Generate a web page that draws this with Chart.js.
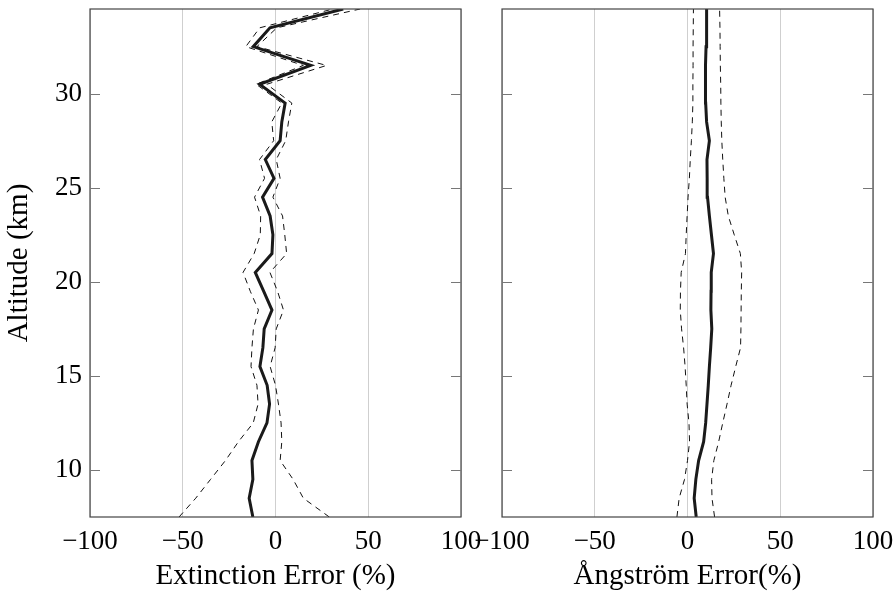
<!DOCTYPE html>
<html>
<head>
<meta charset="utf-8">
<script src="https://cdn.jsdelivr.net/npm/chart.js@4.4.1/dist/chart.umd.min.js"></script>
<style>
  body { margin: 0; background: #fff; }
  .panel { position: absolute; left: 0; top: 0; width: 896px; height: 597px; }
</style>
</head>
<body>
<div class="panel"><canvas id="extinction_chart"></canvas></div>
<div class="panel"><canvas id="angstrom_chart"></canvas></div>
<script>
// altitude of each sample (km)
const altitude = [7.5, 8.5, 9.5, 10.5, 11.5, 12.5, 13.5, 14.5, 15.5, 16.5, 17.5, 18.5, 19.5, 20.5,
    21.5, 22.5, 23.5, 24.5, 25.5, 26.5, 27.5, 28.5, 29.5, 30.5, 31.5, 32.5, 33.5, 34.5];

// extinction error (%), left panel
const ext_mean = [-12.2, -14.2, -12.2, -12.7, -9.2, -4.6, -3.2, -4.5, -8.4, -6.8, -6.1, -1.9, -6.4, -10.9,
    -1.9, -1.4, -2.9, -7.0, -0.8, -5.5, 2.5, 3.4, 5.2, -8.6, 19.0, -12.0, -3.0, 36.5];
const ext_low = [-52, -43, -35, -27, -20, -12, -9.4, -10, -13.2, -12.7, -11.9, -9.2, -13.6, -17.5,
    -11.5, -8.2, -8.0, -11.3, -5.9, -8.6, -1.0, -2.0, 3.4, -10.4, 15.0, -16.0, -8.5, 31.0];
const ext_high = [29, 15, 9.5, 2.5, 3.4, 3.0, 1.6, 0, -2.9, -0.2, 0.4, 4.3, 1.1, -3.0,
    6.0, 5.0, 3.8, -1.4, 2.5, 0.4, 5.5, 7.0, 8.8, -4.7, 27.5, -10.0, 0.7, 45.6];

// angstrom error (%), right panel
const ang_mean = [4.7, 3.6, 4.5, 6.0, 8.7, 9.8, 10.5, 11.2, 11.8, 12.5, 13.1, 12.6, 12.7, 12.8,
    14.0, 12.9, 11.8, 10.8, 10.6, 10.5, 11.8, 10.3, 9.8, 9.6, 9.8, 10.0, 10.2, 10.4];
const ang_low = [-5.7, -4.5, -1.6, 0.0, 1.1, 0.8, -0.2, -0.7, -1.3, -2.1, -3.2, -3.9, -3.8, -3.4,
    -1.1, -0.7, -0.2, 0.3, 1.0, 1.5, 2.1, 2.6, 2.9, 2.9, 3.0, 3.0, 3.1, 3.2];
const ang_high = [14.6, 13.2, 13.0, 14.2, 16.8, 19.0, 21.3, 23.5, 26.0, 28.6, 28.8, 28.9, 29.0, 29.2,
    28.5, 25.2, 22.0, 20.3, 19.6, 19.0, 18.5, 18.2, 18.0, 17.9, 17.7, 17.6, 17.5, 17.3];

const x_ticks = [-100, -50, 0, 50, 100];
const y_ticks = [10, 15, 20, 25, 30];

Chart.defaults.font.family = "'Liberation Serif', 'DejaVu Serif', serif";
Chart.defaults.color = '#000';

// box around the plot and the little inward ticks on both sides
const frame_plugin = {
    id: 'frame',
    afterDraw(chart) {
        const { ctx, chartArea: a, scales } = chart;
        ctx.save();
        ctx.strokeStyle = '#444';
        ctx.lineWidth = 1.2;
        ctx.strokeRect(a.left, a.top, a.right - a.left, a.bottom - a.top);
        ctx.strokeStyle = '#777';
        ctx.lineWidth = 1;
        scales.y.ticks.forEach(t => {
            const py = Math.round(scales.y.getPixelForValue(t.value)) + 0.5;
            ctx.beginPath();
            ctx.moveTo(a.left, py); ctx.lineTo(a.left + 10, py);
            ctx.moveTo(a.right, py); ctx.lineTo(a.right - 10, py);
            ctx.stroke();
        });
        ctx.restore();
    }
};

function to_points(values) {
    return values.map((v, i) => ({ x: v, y: altitude[i] }));
}

// labels sit well inside the canvas, so drop the extra room chart.js keeps for them
function no_label_room(s) {
    s.paddingTop = 0;
    s.paddingBottom = 0;
    s.paddingLeft = 0;
    s.paddingRight = 0;
}

function make_panel(canvas_id, low, mean, high, x_title, show_y, y_width, pad_right) {
    const canvas = document.getElementById(canvas_id);
    const dashed = { borderColor: '#111', borderWidth: 1, borderDash: [6, 5], pointRadius: 0, tension: 0 };

    const config = {
        type: 'line',
        data: {
            datasets: [
                { data: to_points(low), ...dashed },
                { data: to_points(high), ...dashed },
                { data: to_points(mean), borderColor: '#1a1a1a', borderWidth: 3, pointRadius: 0, tension: 0 }
            ]
        },
        options: {
            responsive: true,
            maintainAspectRatio: false,
            animation: false,
            events: [],
            layout: { padding: { top: 9, right: pad_right, bottom: 0, left: 0 } },
            plugins: { legend: { display: false }, tooltip: { enabled: false } },
            scales: {
                x: {
                    type: 'linear',
                    min: -100,
                    max: 100,
                    afterBuildTicks: s => { s.ticks = x_ticks.map(v => ({ value: v })); },
                    afterFit: s => { s.height = 80; no_label_room(s); },
                    ticks: {
                        padding: 9,
                        font: { size: 27 },
                        maxRotation: 0,
                        callback: v => String(v).replace('-', '\u2212')
                    },
                    grid: { color: '#cfcfcf', lineWidth: 1, drawTicks: false },
                    border: { display: false },
                    title: { display: true, text: x_title, font: { size: 29 }, padding: { top: 0, bottom: 3 } }
                },
                y: {
                    type: 'linear',
                    min: 7.5,
                    max: 34.5,
                    afterBuildTicks: s => { s.ticks = y_ticks.map(v => ({ value: v })); },
                    afterFit: s => { s.width = y_width; no_label_room(s); },
                    ticks: { display: show_y, padding: 8, font: { size: 27 } },
                    grid: { display: false, drawTicks: false },
                    border: { display: false },
                    title: { display: show_y, text: 'Altitude (km)', font: { size: 29 }, padding: { top: 2, bottom: 0 } }
                }
            }
        },
        plugins: [frame_plugin]
    };

    new Chart(canvas, config);
}

make_panel('extinction_chart', ext_low, ext_mean, ext_high, 'Extinction Error (%)', true, 90, 435);
make_panel('angstrom_chart', ang_low, ang_mean, ang_high, '\u00c5ngstr\u00f6m Error(%)', false, 502, 23);
</script>
</body>
</html>
